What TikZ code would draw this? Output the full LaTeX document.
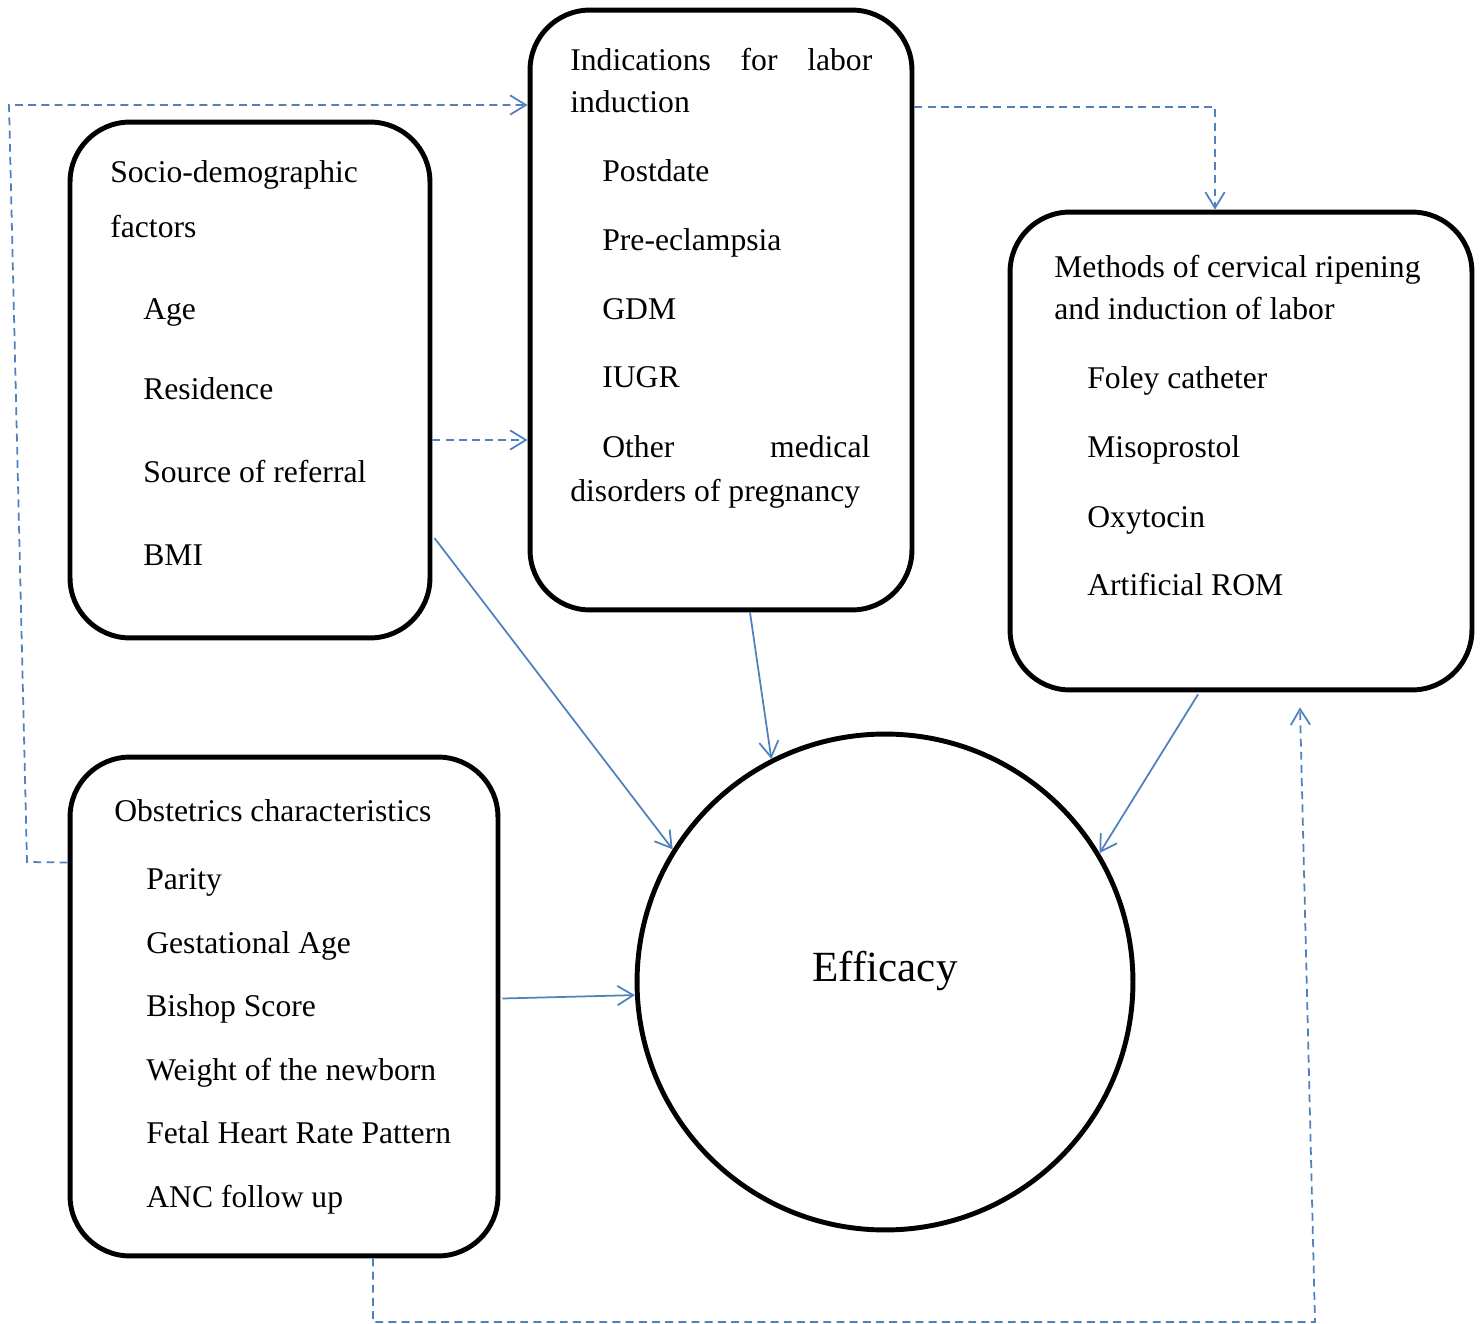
\documentclass[tikz,border=0pt]{standalone}
\usepackage{fontspec}
\setmainfont{Liberation Serif}
\usetikzlibrary{arrows.meta,calc}
\definecolor{linkblue}{RGB}{79,129,189}

\begin{document}
\begin{tikzpicture}[x=0.02cm,y=-0.02cm,>={Straight Barb[length=9pt,width=11pt]},
    box/.style={draw,line width=2.8pt,rounded corners=1.2cm,inner sep=0pt},
    item/.style={anchor=base west,inner sep=0pt,font=\fontsize{18}{21}\selectfont},
    link/.style={->,linkblue,line width=1pt},
    dlink/.style={->,linkblue,line width=1pt,dash pattern=on 4.5pt off 3pt}]
    \useasboundingbox (0,0) rectangle (1481,1324);

    % Boxes
    \node[box,minimum width=7.2cm,minimum height=10.32cm] (socio) at (250,380) {};
    \node[box,minimum width=7.64cm,minimum height=12cm] (indic) at (721,310) {};
    \node[box,minimum width=9.24cm,minimum height=9.56cm] (meth) at (1241,451) {};
    \node[box,minimum width=8.56cm,minimum height=9.98cm] (obst) at (284,1006.5) {};
    \node[draw,circle,line width=2.8pt,minimum size=9.92cm,inner sep=0pt] (eff) at (885,982) {};
    \node[anchor=base,inner sep=0pt,font=\fontsize{24.5}{28}\selectfont] (efftxt) at (885,981) {Efficacy};

    % Socio-demographic factors
    \node[item] (s0) at (110,183) {Socio-demographic};
    \node[item] (s1) at (110,238) {factors};
    \node[item] (s2) at (143,320) {Age};
    \node[item] (s3) at (143,400) {Residence};
    \node[item] (s4) at (143,482) {Source of referral};
    \node[item] (s5) at (143,565) {BMI};

    % Indications
    \node[item] (i0) at (570,71) {\makebox[6.04cm][s]{Indications for labor}};
    \node[item] (i1) at (570,113) {induction};
    \node[item] (i2) at (602,182) {Postdate};
    \node[item] (i3) at (602,251) {Pre-eclampsia};
    \node[item] (i4) at (602,320) {GDM};
    \node[item] (i5) at (602,388) {IUGR};
    \node[item] (i6) at (602,458) {\makebox[5.36cm][s]{Other medical}};
    \node[item] (i7) at (570,501) {disorders of pregnancy};

    % Methods
    \node[item] (m0) at (1054,278) {Methods of cervical ripening};
    \node[item] (m1) at (1054,320) {and induction of labor};
    \node[item] (m2) at (1087,389) {Foley catheter};
    \node[item] (m3) at (1087,458) {Misoprostol};
    \node[item] (m4) at (1087,527) {Oxytocin};
    \node[item] (m5) at (1087,595) {Artificial ROM};

    % Obstetrics characteristics
    \node[item] (o0) at (114,821) {Obstetrics characteristics};
    \node[item] (o1) at (146,889) {Parity};
    \node[item] (o2) at (146,953) {Gestational Age};
    \node[item] (o3) at (146,1016) {Bishop Score};
    \node[item] (o4) at (146,1080) {Weight of the newborn};
    \node[item] (o5) at (146,1143) {Fetal Heart Rate Pattern};
    \node[item] (o6) at (146,1207) {ANC follow up};

    % Dashed links
    \coordinate (sR) at ($(socio.east)+(0,60)$);
    \draw[dlink] (sR) -- (sR -| indic.west);

    \coordinate (oL) at ($(obst.west)+(0,-144)$);
    \coordinate (lBot) at (27,862);
    \coordinate (lTop) at (9,105);
    \draw[dlink] (oL) -- (lBot) -- (lTop) -- (lTop -| indic.west);

    \coordinate (iR) at ($(indic.east)+(0,-203)$);
    \draw[dlink] (iR) -| ($(meth.north)+(-26,0)$);

    \coordinate (oB) at ($(obst.south)+(89,0)$);
    \coordinate (bR) at (1315,1322);
    \coordinate (mB) at ($(meth.south)+(59,15)$);
    \draw[dlink] (oB) |- (bR) -- (mB);

    % Solid links to efficacy
    \draw[link] ($(socio.east)+(2,158)$) -- (eff.148);
    \draw[link] ($(indic.south)+(29,0)$) -- (eff.117);
    \draw[link] ($(meth.south)+(-43,2)$) -- (eff.31.5);
    \draw[link] ($(obst.east)+(2,-8)$) -- (eff.183);
\end{tikzpicture}
\end{document}
